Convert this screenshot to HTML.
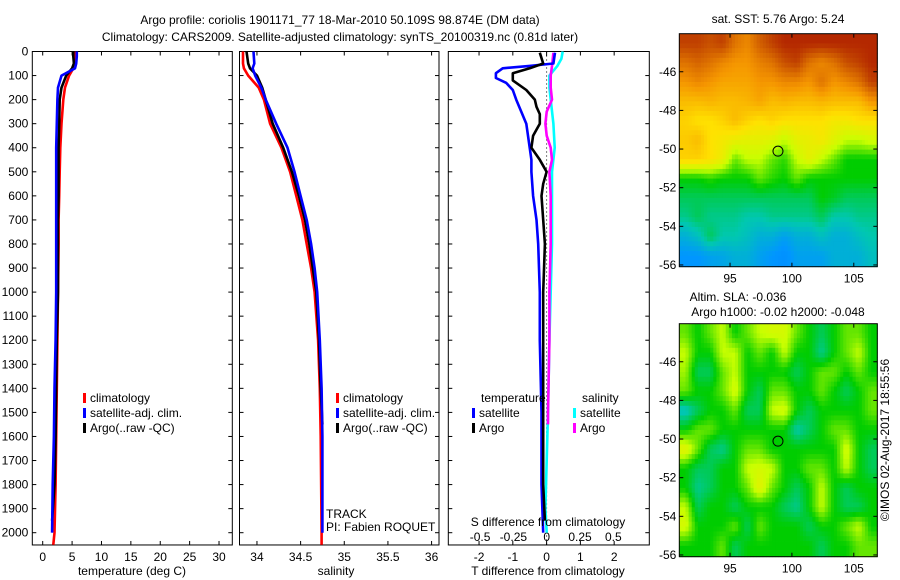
<!DOCTYPE html>
<html><head><meta charset="utf-8"><style>
body{margin:0;background:#fff;}
svg{display:block;font-family:"Liberation Sans",sans-serif;font-size:12px;}
</style></head><body>
<svg id="fig" width="900" height="580">
<text x="340" y="24" text-anchor="middle">Argo profile: coriolis 1901171_77 18-Mar-2010 50.109S 98.874E (DM data)</text>
<text x="340" y="41" text-anchor="middle">Climatology: CARS2009. Satellite-adjusted climatology: synTS_20100319.nc (0.81d later)</text>
<text x="778" y="23" text-anchor="middle">sat. SST: 5.76 Argo: 5.24</text>
<text x="738" y="301" text-anchor="middle">Altim. SLA: -0.036</text>
<text x="778" y="316" text-anchor="middle">Argo h1000: -0.02 h2000: -0.048</text>
<text transform="translate(889,440) rotate(-90)" text-anchor="middle">©IMOS 02-Aug-2017 18:55:56</text>
<g id="g"></g>
</svg>
<script>
// ---- data ----
const tClimDepth=[0,20,50,70,100,150,200,300,400,500,600,700,800,1000,1200,1400,1600,1800,2000,2050];
const tClimVal=[5.5,5.5,5.5,5.2,4.5,3.8,3.5,3.2,3.0,2.9,2.8,2.7,2.7,2.6,2.5,2.4,2.3,2.2,2.0,1.8];
const tSatDepth=[0,20,50,70,100,150,200,300,400,500,600,700,800,1000,1200,1400,1600,1800,2000];
const tSatVal=[5.8,5.8,5.7,5.5,3.2,2.6,2.5,2.4,2.3,2.3,2.3,2.3,2.3,2.3,2.2,2.0,1.9,1.7,1.6];
const tArgoDepth=[0,20,50,70,100,150,200,300,400,500,600,700,800,1000,1200,1400,1600,1800,1950];
const tArgoVal=[5.2,5.2,5.3,5.0,4.0,3.2,2.9,2.8,2.7,2.7,2.7,2.6,2.6,2.6,2.4,2.3,2.2,2.0,1.6];
const sClimDepth=[0,50,70,100,150,200,300,400,500,600,700,800,900,1000,1200,1400,1600,2000,2050];
const sClimVal=[33.84,33.84,33.85,33.9,34.02,34.08,34.15,34.28,34.38,34.45,34.52,34.57,34.62,34.66,34.7,34.72,34.73,34.74,34.74];
const sSatDepth=[0,50,70,100,150,200,300,400,500,600,700,800,900,1000,1200,1400,1600,2000];
const sSatVal=[33.96,33.97,33.95,33.98,34.05,34.1,34.22,34.35,34.43,34.5,34.57,34.62,34.66,34.69,34.72,34.74,34.75,34.75];
const sArgoDepth=[0,50,70,100,150,200,300,400,500,600,700,800,900,1000,1200,1400,1550];
const sArgoVal=[33.88,33.9,33.92,34.0,34.06,34.1,34.18,34.3,34.4,34.48,34.55,34.6,34.64,34.68,34.71,34.73,34.75];
const dTSatDepth=[5,50,60,70,90,110,130,160,200,250,300,350,400,450,500,600,700,800,1000,1200,1500,1800,2000];
const dTSatVal=[0.25,0.2,-0.5,-1.3,-1.5,-1.5,-1.2,-1.0,-0.9,-0.75,-0.6,-0.55,-0.5,-0.45,-0.45,-0.4,-0.3,-0.25,-0.2,-0.2,-0.15,-0.15,-0.1];
const dTArgoDepth=[5,50,70,90,120,160,200,230,260,300,350,400,450,500,550,600,700,800,1000,1200,1500,1800,1950];
const dTArgoVal=[-0.2,-0.1,-0.5,-1.0,-1.0,-0.6,-0.35,-0.3,-0.2,-0.2,-0.4,-0.45,-0.2,0.0,-0.1,-0.15,-0.1,-0.05,-0.1,-0.1,-0.1,-0.1,-0.05];
const dSSatDepth=[0,30,60,100,150,200,300,400,500,600,800,1000,1200,1500,1700,1900,2000];
const dSSatVal=[0.12,0.11,0.08,0.02,0.02,0.03,0.05,0.06,0.04,0.04,0.04,0.03,0.02,0.01,0.0,-0.01,0.0];
const dSArgoDepth=[5,60,100,150,200,250,300,350,400,450,500,600,800,1000,1200,1500,1550];
const dSArgoVal=[0.05,0.04,0.03,0.03,0.04,0.0,-0.01,0.0,0.03,0.04,0.02,0.03,0.03,0.02,0.02,0.01,0.01];
const depthTicks=[0,100,200,300,400,500,600,700,800,900,1000,1100,1200,1300,1400,1500,1600,1700,1800,1900,2000];
const tempTicks=[0,5,10,15,20,25,30];
const salTicks=[34,34.5,35,35.5,36];
const salTickLabels=["34","34.5","35","35.5","36"];
const dTTicks=[-2,-1,0,1,2];
const dSTicks=[-0.5,-0.25,0,0.25,0.5];
const dSTickLabels=["-0.5","-0.25","0","0.25","0.5"];
const latTicks=[-46,-48,-50,-52,-54,-56];
const lonTicks=[95,100,105];
const sstGrid=[
[0.92,0.92,0.9,0.92,0.85,0.82,0.88,0.92,0.95,0.95,0.95,0.95,0.95,0.95,0.95,0.95],
[0.85,0.87,0.85,0.82,0.8,0.8,0.83,0.85,0.9,0.92,0.85,0.82,0.85,0.9,0.92,0.95],
[0.8,0.82,0.8,0.78,0.78,0.78,0.8,0.8,0.82,0.82,0.8,0.85,0.8,0.82,0.85,0.92],
[0.75,0.75,0.76,0.75,0.75,0.76,0.78,0.75,0.76,0.75,0.75,0.76,0.75,0.75,0.75,0.8],
[0.72,0.7,0.7,0.72,0.75,0.72,0.7,0.72,0.7,0.7,0.7,0.7,0.68,0.68,0.7,0.7],
[0.73,0.75,0.7,0.68,0.66,0.65,0.65,0.64,0.6,0.65,0.66,0.68,0.64,0.6,0.6,0.62],
[0.72,0.72,0.7,0.66,0.55,0.6,0.6,0.55,0.52,0.6,0.65,0.6,0.55,0.5,0.5,0.5],
[0.5,0.5,0.52,0.5,0.5,0.5,0.55,0.52,0.5,0.55,0.5,0.5,0.5,0.5,0.5,0.5],
[0.45,0.45,0.45,0.45,0.45,0.45,0.45,0.45,0.45,0.45,0.45,0.5,0.48,0.45,0.45,0.45],
[0.42,0.45,0.42,0.42,0.42,0.4,0.4,0.42,0.42,0.42,0.42,0.45,0.4,0.4,0.42,0.42],
[0.35,0.38,0.45,0.4,0.4,0.38,0.35,0.35,0.32,0.35,0.35,0.38,0.35,0.35,0.38,0.4],
[0.3,0.3,0.32,0.33,0.35,0.35,0.32,0.3,0.28,0.32,0.32,0.32,0.35,0.35,0.35,0.38]];
const slaGrid=[
[0.55,0.5,0.55,0.6,0.5,0.55,0.6,0.62,0.62,0.55,0.5,0.45,0.5,0.55,0.55,0.5],
[0.6,0.5,0.5,0.6,0.6,0.5,0.55,0.5,0.6,0.5,0.5,0.42,0.5,0.55,0.6,0.5],
[0.58,0.45,0.45,0.55,0.6,0.5,0.5,0.5,0.5,0.45,0.5,0.55,0.55,0.5,0.55,0.5],
[0.55,0.5,0.5,0.55,0.62,0.5,0.45,0.55,0.55,0.5,0.5,0.55,0.5,0.45,0.5,0.55],
[0.38,0.45,0.5,0.5,0.55,0.45,0.45,0.6,0.62,0.5,0.45,0.5,0.5,0.5,0.5,0.55],
[0.5,0.55,0.55,0.5,0.5,0.5,0.5,0.5,0.5,0.4,0.45,0.5,0.55,0.55,0.5,0.5],
[0.65,0.55,0.45,0.42,0.5,0.55,0.55,0.5,0.5,0.5,0.5,0.5,0.5,0.62,0.5,0.45],
[0.5,0.45,0.45,0.5,0.5,0.6,0.62,0.6,0.5,0.5,0.55,0.55,0.5,0.6,0.5,0.45],
[0.5,0.42,0.45,0.5,0.5,0.55,0.65,0.55,0.5,0.45,0.5,0.6,0.5,0.45,0.5,0.5],
[0.6,0.45,0.5,0.5,0.45,0.5,0.5,0.5,0.45,0.42,0.5,0.6,0.5,0.45,0.45,0.5],
[0.62,0.5,0.5,0.5,0.55,0.45,0.55,0.5,0.5,0.5,0.45,0.5,0.5,0.55,0.6,0.5],
[0.5,0.5,0.5,0.55,0.45,0.5,0.5,0.5,0.5,0.5,0.5,0.45,0.5,0.5,0.55,0.55]];
const argoLon=98.874, argoLat=-50.109;

// ---- drawing ----
const NS="http://www.w3.org/2000/svg";
const G=document.getElementById('g');
function mk(tag,at,parent){const e=document.createElementNS(NS,tag);for(const k in at)e.setAttribute(k,at[k]);(parent||G).appendChild(e);return e;}
function txt(x,y,s,anchor,parent){const e=mk('text',{x:x,y:y,'text-anchor':anchor||'middle'},parent);e.textContent=s;return e;}

const Y0=51.5, YS=0.2406, YMAX=2051;
const yD=d=>Y0+d*YS;
const P1={l:32.3,r:232.3,min:-1.77,max:32.26};
const P2={l:239.5,r:439,min:33.8,max:36.085};
const P3={l:448.3,r:649.3,min:-2.91,max:3.04};
const sx=(p,v)=>p.l+(v-p.min)/(p.max-p.min)*(p.r-p.l);
const dSx=v=>546.7+v*133.3;
const yBot=yD(YMAX);

function frame(p,name){
  const r=mk('rect',{x:p.l,y:Y0,width:p.r-p.l,height:yBot-Y0,fill:'none',stroke:'#000','stroke-width':1});
  
  
}
function line(xs,ds,xf,color,name){
  const pts=xs.map((v,i)=>xf(v).toFixed(1)+','+yD(ds[i]).toFixed(1)).join(' ');
  const e=mk('polyline',{points:pts,fill:'none',stroke:color,'stroke-width':2.6,'stroke-linejoin':'round'});
  
  
}
function legend(x,y,items,names){
  items.forEach((it,i)=>{
    const r=mk('rect',{x:x,y:y+i*15-9,width:3,height:10,fill:it[0]});
    
    
    const t=txt(x+7,y+i*15,it[1],'start');
    
    
  });
}

// panel 1
frame(P1,'temperature-axes');
depthTicks.forEach(d=>{
  const y=yD(d);
  [P1,P2,P3].forEach(p=>{mk('line',{x1:p.l,x2:p.l+4,y1:y,y2:y,stroke:'#000'});mk('line',{x1:p.r,x2:p.r-4,y1:y,y2:y,stroke:'#000'});});
  const t=txt(P1.l-4,y+4,String(d),'end');
  
  
});
tempTicks.forEach(v=>{const x=sx(P1,v);mk('line',{x1:x,x2:x,y1:yBot,y2:yBot-4,stroke:'#000'});mk('line',{x1:x,x2:x,y1:Y0,y2:Y0+4,stroke:'#000'});
  const t=txt(x,yBot+16,String(v));});
{const t=txt(132,yBot+30,'temperature (deg C)');}
line(tClimVal,tClimDepth,v=>sx(P1,v),'#f00','temp-climatology-line');
line(tArgoVal,tArgoDepth,v=>sx(P1,v),'#000','temp-argo-line');
line(tSatVal,tSatDepth,v=>sx(P1,v),'#00f','temp-satellite-line');
legend(83,402,[['#f00','climatology'],['#00f','satellite-adj. clim.'],['#000','Argo(..raw -QC)']],['legend-climatology','legend-satellite','legend-argo']);

// panel 2
frame(P2,'salinity-axes');
salTicks.forEach((v,i)=>{const x=sx(P2,v);mk('line',{x1:x,x2:x,y1:yBot,y2:yBot-4,stroke:'#000'});mk('line',{x1:x,x2:x,y1:Y0,y2:Y0+4,stroke:'#000'});
  const t=txt(x,yBot+16,salTickLabels[i]);});
{const t=txt(336,yBot+30,'salinity');}
line(sClimVal,sClimDepth,v=>sx(P2,v),'#f00','sal-climatology-line');
line(sArgoVal,sArgoDepth,v=>sx(P2,v),'#000','sal-argo-line');
line(sSatVal,sSatDepth,v=>sx(P2,v),'#00f','sal-satellite-line');
legend(336,402,[['#f00','climatology'],['#00f','satellite-adj. clim.'],['#000','Argo(..raw -QC)']],['sal-legend-climatology','sal-legend-satellite','sal-legend-argo']);
{const t=txt(326,518,'TRACK','start');
 const t2=txt(326,531,'PI: Fabien ROQUET','start');}

// panel 3
frame(P3,'difference-axes');
mk('line',{x1:sx(P3,0),x2:sx(P3,0),y1:Y0,y2:yBot,stroke:'#000','stroke-dasharray':'1,3'});
dTTicks.forEach(v=>{const x=sx(P3,v);mk('line',{x1:x,x2:x,y1:yBot,y2:yBot-4,stroke:'#000'});mk('line',{x1:x,x2:x,y1:Y0,y2:Y0+4,stroke:'#000'});
  const t=txt(x,yBot+16,String(v));});
dSTicks.forEach((v,i)=>{const t=txt(dSx(v),yBot-4,dSTickLabels[i]);});
line(dSSatVal,dSSatDepth,dSx,'#0ff','s-diff-satellite-line');
line(dSArgoVal,dSArgoDepth,dSx,'#f0f','s-diff-argo-line');
line(dTSatVal,dTSatDepth,v=>sx(P3,v),'#00f','t-diff-satellite-line');
line(dTArgoVal,dTArgoDepth,v=>sx(P3,v),'#000','t-diff-argo-line');
{const t=txt(548,yBot-19,'S difference from climatology');
 const t2=txt(548,yBot+30,'T difference from climatology');}
{const t=txt(481,402,'temperature','start');
 const t2=txt(582,402,'salinity','start');}
legend(472,417,[['#00f','satellite'],['#000','Argo']],['legend-t-satellite','legend-t-argo']);
legend(573,417,[['#0ff','satellite'],['#f0f','Argo']],['legend-s-satellite','legend-s-argo']);

// maps
const stops=[[0,[0,60,255]],[0.3,[0,150,255]],[0.4,[0,200,175]],[0.5,[0,205,0]],[0.6,[200,255,0]],[0.7,[255,225,0]],[0.8,[245,150,0]],[0.9,[200,80,0]],[1,[160,0,0]]];
function cmap(v){for(let i=1;i<stops.length;i++){if(v<=stops[i][0]){const a=stops[i-1],b=stops[i],f=(v-a[0])/(b[0]-a[0]);return 'rgb('+a[1].map((c,k)=>Math.round(c+(b[1][k]-c)*f)).join(',')+')';}}return 'rgb(160,0,0)';}
const LON0=90.9,LON1=106.9,LAT0=-44.03,LAT1=-56.09;
function sample(grid,r,c){
  const rows=grid.length,cols=grid[0].length;
  r=Math.max(0,Math.min(rows-1,r));c=Math.max(0,Math.min(cols-1,c));
  const r0=Math.floor(r),c0=Math.floor(c),r1=Math.min(rows-1,r0+1),c1=Math.min(cols-1,c0+1);
  const fr=r-r0,fc=c-c0;
  return grid[r0][c0]*(1-fr)*(1-fc)+grid[r0][c1]*(1-fr)*fc+grid[r1][c0]*fr*(1-fc)+grid[r1][c1]*fr*fc;
}
function map(top,grid,name){
  const L=679.3,R=877.3,T=top,B=top+233;
  const mx=lon=>L+(lon-LON0)/(LON1-LON0)*(R-L);
  const my=lat=>T+(lat-LAT0)/(LAT1-LAT0)*(B-T);
  const g=mk('g',{});
  
  
  const rows=grid.length,cols=grid[0].length;
  const SUB=4;
  const NR=Math.ceil((LAT0-LAT1)*SUB), NC=cols*SUB;
  for(let i=0;i<NR;i++){
    for(let j=0;j<NC;j++){
      const la=LAT0-i/SUB, lo=LON0+j/SUB;
      const v=sample(grid,(i+0.5)/SUB-0.5,(j+0.5)/SUB-0.5);
      const x0=mx(lo),x1=Math.min(R,mx(lo+1/SUB)),y0=my(la),y1=Math.min(B,my(la-1/SUB));
      const c=mk('rect',{x:x0,y:y0,width:x1-x0+0.4,height:Math.max(0,y1-y0+0.4),fill:cmap(v)},g);
      
      
    }
  }
  mk('rect',{x:L,y:T,width:R-L,height:B-T,fill:'none',stroke:'#000'});
  latTicks.forEach(la=>{const y=my(la);mk('line',{x1:L,x2:L+4,y1:y,y2:y,stroke:'#000'});mk('line',{x1:R,x2:R-4,y1:y,y2:y,stroke:'#000'});
    const t=txt(L-3,y+4,String(la),'end');});
  lonTicks.forEach(lo=>{const x=mx(lo);mk('line',{x1:x,x2:x,y1:B,y2:B-4,stroke:'#000'});mk('line',{x1:x,x2:x,y1:T,y2:T+4,stroke:'#000'});
    const t=txt(x,B+16,String(lo));});
  const m=mk('circle',{cx:mx(argoLon),cy:my(argoLat),r:5,fill:'none',stroke:'#000','stroke-width':1});
  
  
}
map(33.7,sstGrid,'sst-map');
map(323.7,slaGrid,'sla-map');
</script>
</body></html>
